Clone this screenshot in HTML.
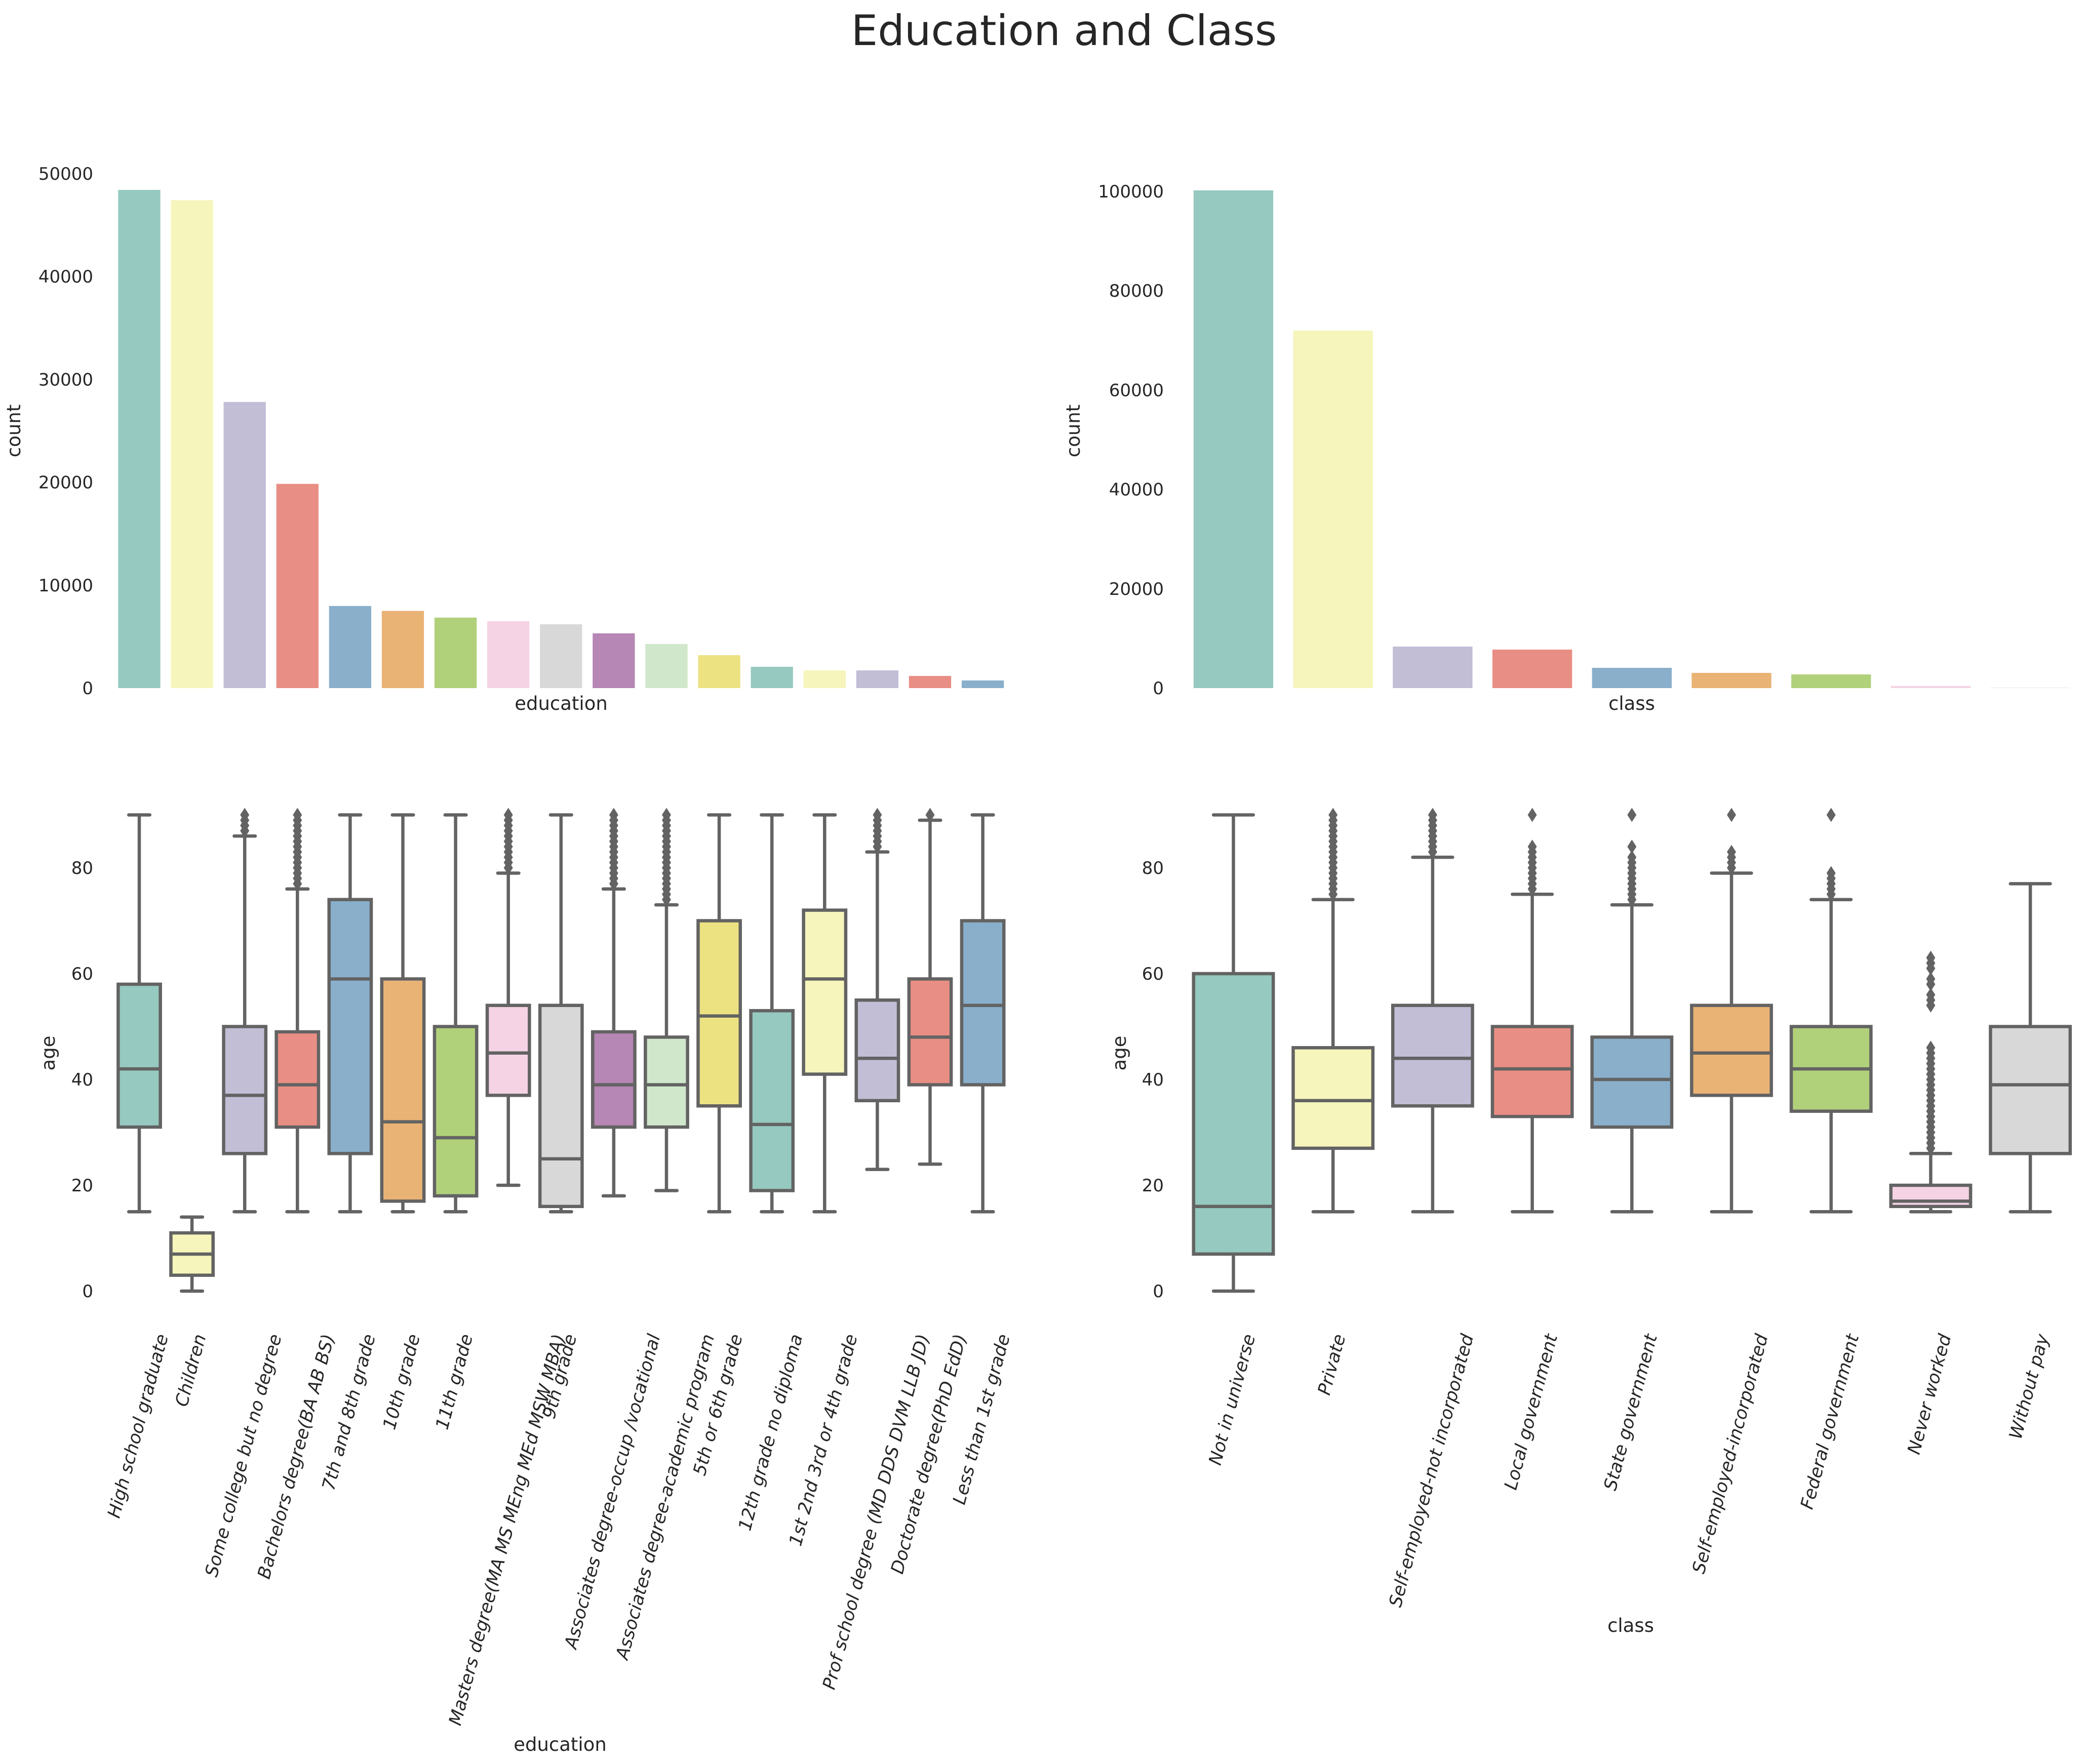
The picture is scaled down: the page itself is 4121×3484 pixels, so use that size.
<!DOCTYPE html>
<html><head><meta charset="utf-8"><style>
html,body{margin:0;padding:0;background:#fff;}
svg{display:block;font-family:"DejaVu Sans","Liberation Sans",sans-serif;}
</style></head><body>
<svg id="fig" width="4121" height="3484" viewBox="0 0 4121 3484" xmlns="http://www.w3.org/2000/svg">
<rect width="4121" height="3484" fill="#fff"/>
<text x="2101" y="89" font-size="83" fill="#262626" text-anchor="middle">Education and Class</text>
<g id="g-edu-count"></g>
<g id="g-class-count"></g>
<g id="g-edu-box"></g>
<g id="g-class-box"></g>
</svg>
<script>
const eduCategories = ["High school graduate","Children","Some college but no degree","Bachelors degree(BA AB BS)","7th and 8th grade","10th grade","11th grade","Masters degree(MA MS MEng MEd MSW MBA)","9th grade","Associates degree-occup /vocational","Associates degree-academic program","5th or 6th grade","12th grade no diploma","1st 2nd 3rd or 4th grade","Prof school degree (MD DDS DVM LLB JD)","Doctorate degree(PhD EdD)","Less than 1st grade"];
const eduCounts = [48420,47420,27810,19850,7980,7500,6850,6500,6200,5320,4290,3200,2070,1720,1720,1180,740];
const eduQ1 = [31,3,26,31,26,17,18,37,16,31,31,35,19,41,36,39,39];
const eduMed = [42,7,37,39,59,32,29,45,25,39,39,52,31.5,59,44,48,54];
const eduQ3 = [58,11,50,49,74,59,50,54,54,49,48,70,53,72,55,59,70];
const eduLo = [15,0,15,15,15,15,15,20,15,18,19,15,15,15,23,24,15];
const eduHi = [90,14,86,76,90,90,90,79,90,76,73,90,90,90,83,89,90];
const eduFliers = [[],[],[87,88,89,90],[77,78,79,80,81,82,83,84,85,86,87,88,89,90],[],[],[],[80,81,82,83,84,85,86,87,88,89,90],[],[77,78,79,80,81,82,83,84,85,86,87,88,89,90],[74,75,76,77,78,79,80,81,82,83,84,85,86,87,88,89,90],[],[],[],[84,85,86,87,88,89,90],[90],[]];

const classCategories = ["Not in universe","Private","Self-employed-not incorporated","Local government","State government","Self-employed-incorporated","Federal government","Never worked","Without pay"];
const classCounts = [100200,71970,8360,7750,4080,3060,2750,440,60];
const classQ1 = [7,27,35,33,31,37,34,16,26];
const classMed = [16,36,44,42,40,45,42,17,39];
const classQ3 = [60,46,54,50,48,54,50,20,50];
const classLo = [0,15,15,15,15,15,15,15,15];
const classHi = [90,74,82,75,73,79,74,26,77];
const classFliers = [[],[75,76,77,78,79,80,81,82,83,84,85,86,87,88,89,90],[83,84,85,86,87,88,89,90],[76,77,78,79,80,81,82,83,84,90],[74,75,76,77,78,79,80,81,82,84,90],[80,81,82,83,90],[75,76,77,78,79,90],[27,28,29,30,31,32,33,34,35,36,37,38,39,40,41,42,43,44,45,46,54,55,56,58,59,61,62,63],[]];

const eduCountTicks = [0,10000,20000,30000,40000,50000];
const classCountTicks = [0,20000,40000,60000,80000,100000];
const ageTicks = [0,20,40,60,80];

const palette = ["#96c9c0","#f6f5bb","#c2bed6","#e98e84","#89afcb","#e9b376","#b0d07a","#f5d3e4","#d8d8d8","#b686b4","#d0e7cb","#ece282"];
const NS = "http://www.w3.org/2000/svg";
const LINE = "#636363", TXT = "#262626";

function el(parent, tag, attrs){
  const e = document.createElementNS(NS, tag);
  for (const k in attrs) e.setAttribute(k, attrs[k]);
  parent.appendChild(e);
  return e;
}
function bandX(x0, step){ return i => x0 + i*step; }
function linY(y0, pxPerUnit){ return v => y0 - v*pxPerUnit; }

function yTicks(g, ticks, yf, xRight, fmt){
  ticks.forEach(t=>{
    const tx = el(g,"text",{x:xRight,y:yf(t)+12,"font-size":34,fill:TXT,"text-anchor":"end"});
    
    
    tx.textContent = fmt(t);
  });
}
function axisLabel(g, text, x, y, rotate, name){
  const t = el(g,"text",{x:x,y:y,"font-size":37,fill:TXT,"text-anchor":"middle"});
  if (rotate) t.setAttribute("transform","rotate(-90 "+x+" "+y+")");
  
  
  t.textContent = text;
}

function countChart(g, cats, counts, xf, step, yf, ticks, xRight, xlabelX, ylabelX){
  const w = step*0.8;
  counts.forEach((c,i)=>{
    const r = el(g,"rect",{x:xf(i)-w/2,y:yf(c),width:w,height:yf(0)-yf(c),fill:palette[i%palette.length]});
    
    
  });
  yTicks(g, ticks, yf, xRight, t=>String(t));
  axisLabel(g, "count", ylabelX, 851, true, "y-axis-title");
  axisLabel(g, g.id==="g-edu-count"?"education":"class", xlabelX, 1402, false, "x-axis-title");
}

function boxChart(g, cats, q1, med, q3, lo, hi, fliers, xf, step, yf, xRight, ylabelX, xlabelX, xlabelY, xname){
  const w = step*0.8;
  cats.forEach((c,i)=>{
    const cx = xf(i);
    const grp = el(g,"g",{});
    
    
    el(grp,"line",{x1:cx,x2:cx,y1:yf(q3[i]),y2:yf(hi[i]),stroke:LINE,"stroke-width":6.5});
    el(grp,"line",{x1:cx,x2:cx,y1:yf(q1[i]),y2:yf(lo[i]),stroke:LINE,"stroke-width":6.5});
    el(grp,"line",{x1:cx-w/4,x2:cx+w/4,y1:yf(hi[i]),y2:yf(hi[i]),stroke:LINE,"stroke-width":6.5,"stroke-linecap":"round"});
    el(grp,"line",{x1:cx-w/4,x2:cx+w/4,y1:yf(lo[i]),y2:yf(lo[i]),stroke:LINE,"stroke-width":6.5,"stroke-linecap":"round"});
    el(grp,"rect",{x:cx-w/2,y:yf(q3[i]),width:w,height:yf(q1[i])-yf(q3[i]),fill:palette[i%palette.length],stroke:LINE,"stroke-width":6.5});
    el(grp,"line",{x1:cx-w/2,x2:cx+w/2,y1:yf(med[i]),y2:yf(med[i]),stroke:LINE,"stroke-width":6.5});
    fliers[i].forEach(v=>{
      const y = yf(v);
      const p = el(grp,"path",{d:"M"+cx+" "+(y-14)+" L"+(cx+9)+" "+y+" L"+cx+" "+(y+14)+" L"+(cx-9)+" "+y+" Z",fill:LINE});
      
      
    });
  });
  yTicks(g, ageTicks, yf, xRight, t=>String(t));
  axisLabel(g, "age", ylabelX, 2080, true, "y-axis-title");
  axisLabel(g, xname, xlabelX, xlabelY, false, "x-axis-title");
  const c = Math.cos(75*Math.PI/180), s = Math.sin(75*Math.PI/180);
  const fs = 35, a = 0.76*fs, d = 0.24*fs, T = 2632;
  cats.forEach((cat,i)=>{
    const t = el(g,"text",{"font-size":fs,fill:TXT,"font-style":"italic","text-anchor":"end"});
    
    
    t.textContent = cat;
    const L = t.getComputedTextLength();
    const cxOff = (-L*c - a*s + d*s)/2;
    const tx = xf(i) - cxOff, ty = T + a*c;
    t.setAttribute("transform","translate("+tx+" "+ty+") rotate(-75)");
  });
}

const eduStep = 104.1, classStep = 196.7;
const xEdu = bandX(275, eduStep);
const xClass = bandX(2435.5, classStep);
const yEduCount = linY(1359, 1016/50000);
const yClassCount = linY(1359, 981/100000);
const yAge = linY(2550, 10.45);

countChart(document.getElementById("g-edu-count"), eduCategories, eduCounts, xEdu, eduStep, yEduCount, eduCountTicks, 184, 1108, 40);
countChart(document.getElementById("g-class-count"), classCategories, classCounts, xClass, classStep, yClassCount, classCountTicks, 2298, 3222, 2132);
boxChart(document.getElementById("g-edu-box"), eduCategories, eduQ1, eduMed, eduQ3, eduLo, eduHi, eduFliers, xEdu, eduStep, yAge, 184, 108, 1106, 3458, "education");
boxChart(document.getElementById("g-class-box"), classCategories, classQ1, classMed, classQ3, classLo, classHi, classFliers, xClass, classStep, yAge, 2298, 2223, 3220, 3223, "class");
</script>
</body></html>
